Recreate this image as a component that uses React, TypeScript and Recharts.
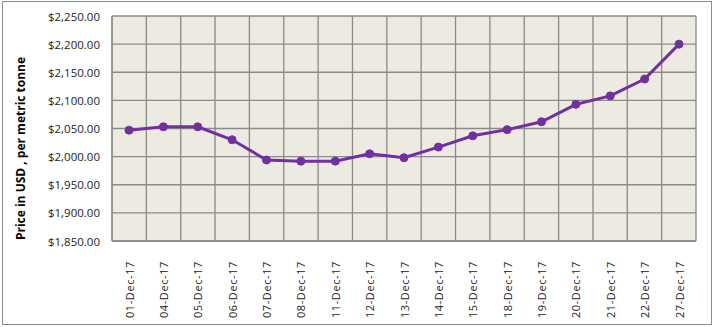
import React from "react";
import { LineChart, Line, XAxis, YAxis, CartesianGrid } from "recharts";

const dates = ["01-Dec-17","04-Dec-17","05-Dec-17","06-Dec-17","07-Dec-17","08-Dec-17","11-Dec-17","12-Dec-17","13-Dec-17","14-Dec-17","15-Dec-17","18-Dec-17","19-Dec-17","20-Dec-17","21-Dec-17","22-Dec-17","27-Dec-17"];
const prices = [2047, 2053, 2053, 2030, 1994, 1992, 1992, 2005, 1998, 2017, 2037, 2048, 2062, 2093, 2108, 2138, 2200];
const yTicks = [1850, 1900, 1950, 2000, 2050, 2100, 2150, 2200, 2250];

const data = dates.map((d, i) => ({ date: d, price: prices[i] }));

const fmt = (v: number) =>
  "$" + v.toLocaleString("en-US", { minimumFractionDigits: 2, maximumFractionDigits: 2 });

const XTick = (props: any) => {
  const { x, y, payload } = props;
  return (
    <text
      x={x}
      y={y + 12}
      transform={`rotate(-90 ${x} ${y + 12})`}
      textAnchor="end"
      dominantBaseline="central"
      fontFamily="'Open Sans', sans-serif"
      fontSize={11}
      letterSpacing={0.6}
      fill="#222"
    >
      {payload.value}
    </text>
  );
};

const YTick = (props: any) => {
  const { y, payload } = props;
  return (
    <text
      x={100}
      y={y}
      textAnchor="end"
      dominantBaseline="central"
      fontFamily="'Open Sans', sans-serif"
      fontSize={11.5}
      fill="#222"
    >
      {fmt(payload.value)}
    </text>
  );
};

export default function App() {
  return (
    <div style={{ position: "absolute", left: 0, top: 0, width: 714, height: 327, background: "#fff" }}>
      <div
        style={{
          position: "absolute",
          left: 2,
          top: 1,
          width: 708,
          height: 322,
          border: "1px solid #8a8a8a",
        }}
      />
      <div style={{ position: "absolute", left: 0, top: 0 }}>
        <LineChart width={714} height={327} data={data} margin={{ top: 16, right: 18, bottom: 0, left: 0 }}>
          <CartesianGrid
            fill="#EDEAE1"
            stroke="#8a8a8a"
            strokeWidth={1.3}
            verticalCoordinatesGenerator={({ offset }: any) =>
              dates.map((_, i) => offset.left + (i * offset.width) / dates.length).concat([offset.left + offset.width])
            }
          />
          <XAxis
            dataKey="date"
            height={86}
            interval={0}
            padding={{ left: 17, right: 17 }}
            tick={<XTick />}
            tickLine={false}
            axisLine={{ stroke: "#8a8a8a", strokeWidth: 1.3 }}
          />
          <YAxis
            width={112}
            domain={[1850, 2250]}
            ticks={yTicks}
            interval={0}
            tick={<YTick />}
            tickLine={false}
            axisLine={{ stroke: "#8a8a8a", strokeWidth: 1.3 }}
            label={{
              value: "Price in USD , per metric tonne",
              angle: -90,
              position: "insideLeft",
              dx: 16,
              dy: 20,
              style: { fontFamily: "'Open Sans', sans-serif", fontSize: 12, fontWeight: 700, fill: "#000", textAnchor: "middle" },
            }}
          />
          <Line
            type="linear"
            dataKey="price"
            stroke="#7030A0"
            strokeWidth={3}
            dot={{ r: 4, fill: "#7030A0", stroke: "#7030A0", strokeWidth: 1 }}
            isAnimationActive={false}
          />
        </LineChart>
      </div>
    </div>
  );
}
